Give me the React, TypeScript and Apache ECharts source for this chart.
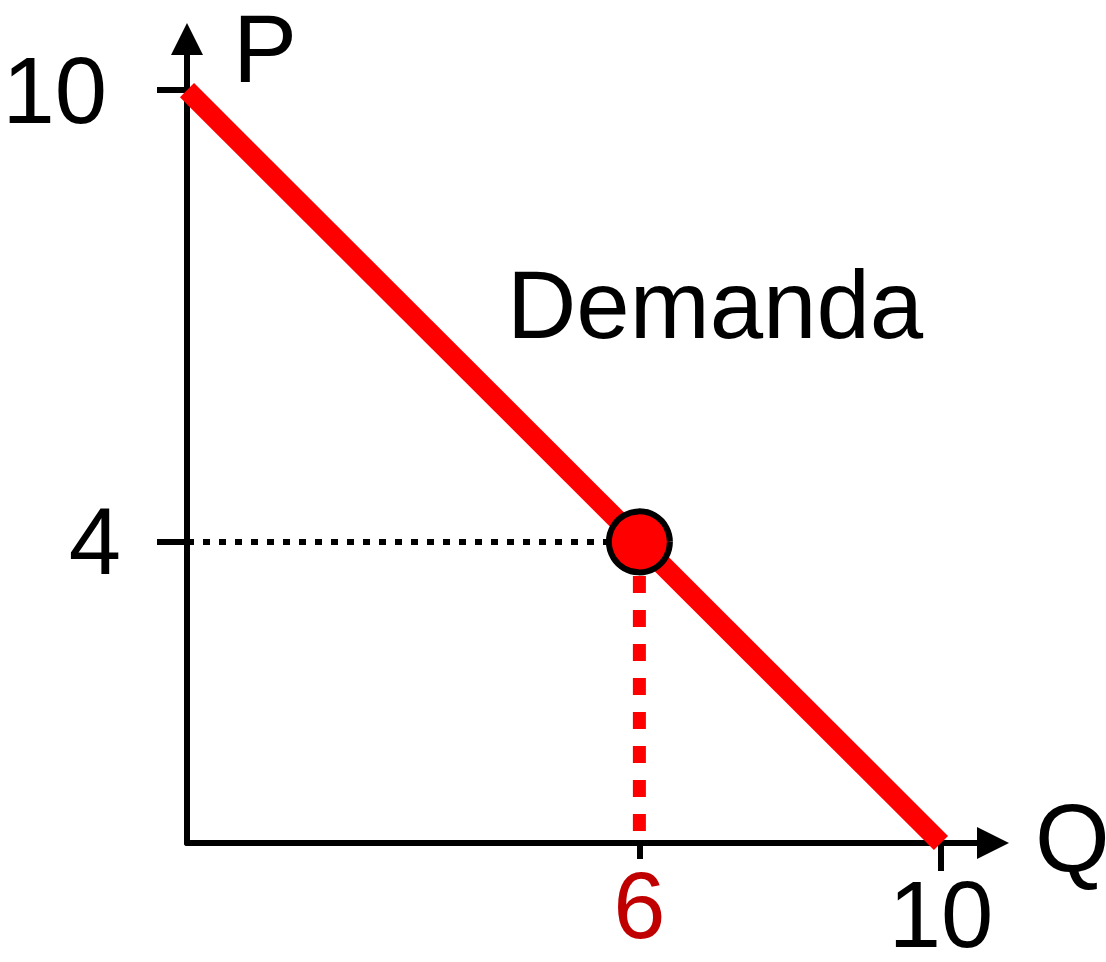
import React, { useEffect, useRef } from "react";
import * as echarts from "echarts";

const demandLine: number[][] = [[0, 10], [10, 0]];
const equilibrium: number[][] = [[6, 4]];
const priceGuide: number[][] = [[0, 4], [6, 4]];
const quantityGuide: number[][] = [[6, 4], [6, 0]];
const xTickRed: number[] = [6];
const xTickBlack: number[] = [10];
const yTickLow: number[] = [4];
const yTickHigh: number[] = [10];
const xAxisName = "Q";
const yAxisName = "P";
const curveLabel = "Demanda";

const FONT = "'Liberation Sans', Arial, sans-serif";

export default function App() {
  const ref = useRef<HTMLDivElement>(null);
  useEffect(() => {
    document.body.style.margin = "0";
    if (!ref.current) return;
    const chart = echarts.init(ref.current, undefined, { renderer: "svg" });
    const XMAX = 10.69;
    const YMAX = 10.68;
    const baseX = {
      type: "value",
      min: 0,
      max: XMAX,
      splitLine: { show: false },
      position: "bottom",
    };
    const baseY = {
      type: "value",
      min: 0,
      max: YMAX,
      splitLine: { show: false },
      position: "left",
    };
    chart.setOption({
      animation: false,
      backgroundColor: "#ffffff",
      grid: { left: 187, top: 39, width: 806, height: 804, containLabel: false, outerBoundsMode: "none" },
      xAxis: [
        {
          ...baseX,
          axisLine: {
            show: true,
            lineStyle: { color: "#000", width: 6 },
            symbol: ["none", "triangle"],
            symbolSize: [32, 32],
          },
          axisTick: { show: true, customValues: xTickRed, length: 16, lineStyle: { color: "#000", width: 6 } },
          axisLabel: {
            show: true,
            customValues: xTickRed,
            margin: 22,
            fontSize: 94,
            lineHeight: 80,
            fontFamily: FONT,
            color: "#c00000",
          },
        },
        {
          ...baseX,
          axisLine: { show: false },
          axisTick: { show: true, customValues: xTickBlack, length: 28, lineStyle: { color: "#000", width: 6 } },
          axisLabel: {
            show: true,
            customValues: xTickBlack,
            margin: 31,
            fontSize: 94,
            lineHeight: 80,
            fontFamily: FONT,
            color: "#000",
          },
        },
      ],
      yAxis: [
        {
          ...baseY,
          axisLine: {
            show: true,
            lineStyle: { color: "#000", width: 6 },
            symbol: ["none", "triangle"],
            symbolSize: [32, 32],
          },
          axisTick: { show: true, customValues: [...yTickLow, ...yTickHigh], length: 30, lineStyle: { color: "#000", width: 6 } },
          axisLabel: {
            show: true,
            customValues: yTickLow,
            margin: 66,
            fontSize: 94,
            fontFamily: FONT,
            color: "#000",
          },
        },
        {
          ...baseY,
          axisLine: { show: false },
          axisTick: { show: false },
          axisLabel: {
            show: true,
            customValues: yTickHigh,
            margin: 80,
            fontSize: 94,
            fontFamily: FONT,
            color: "#000",
          },
        },
      ],
      series: [
        {
          type: "line",
          data: priceGuide,
          symbol: "none",
          clip: false,
          silent: true,
          lineStyle: { color: "#000", width: 6, type: [7, 9] },
          z: 2,
        },
        {
          type: "line",
          data: quantityGuide,
          symbol: "none",
          clip: false,
          silent: true,
          lineStyle: { color: "#ff0000", width: 13, type: [17, 17] },
          z: 2,
        },
        {
          type: "line",
          data: demandLine,
          symbol: "none",
          clip: false,
          silent: true,
          lineStyle: { color: "#ff0000", width: 20, cap: "butt" },
          z: 3,
        },
        {
          type: "scatter",
          data: equilibrium,
          symbol: "circle",
          symbolSize: 61,
          clip: false,
          silent: true,
          itemStyle: { color: "#ff0000", borderColor: "#000", borderWidth: 6, opacity: 1 },
          z: 4,
        },
      ],
      graphic: [
        {
          type: "text",
          x: 233,
          y: 48,
          style: { text: yAxisName, fontSize: 96, lineHeight: 90, fontFamily: FONT, fill: "#000", verticalAlign: "middle", align: "left" },
        },
        {
          type: "text",
          x: 1035,
          y: 838,
          style: { text: xAxisName, fontSize: 96, lineHeight: 90, fontFamily: FONT, fill: "#000", verticalAlign: "middle", align: "left" },
        },
        {
          type: "text",
          x: 507,
          y: 304,
          style: { text: curveLabel, fontSize: 96, lineHeight: 90, fontFamily: FONT, fill: "#000", verticalAlign: "middle", align: "left" },
        },
      ],
    });
    return () => chart.dispose();
  }, []);
  return <div ref={ref} style={{ width: 1106, height: 962 }} />;
}
